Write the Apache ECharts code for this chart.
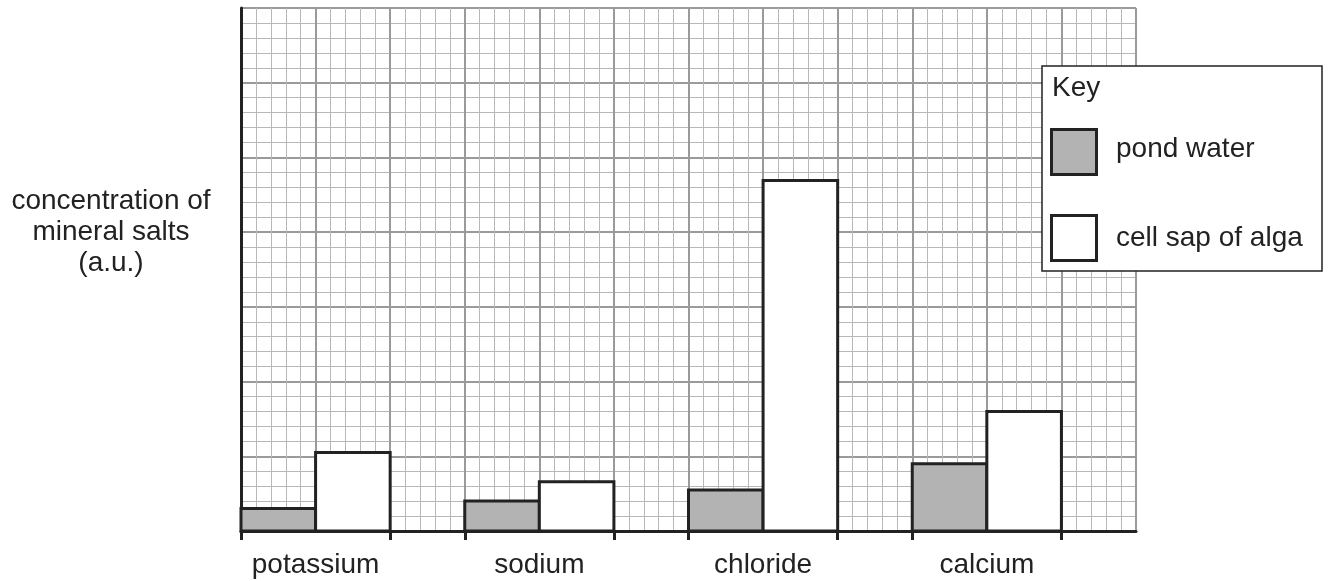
<!DOCTYPE html>
<html>
<head>
<meta charset="utf-8">
<script src="https://cdn.jsdelivr.net/npm/echarts@6/dist/echarts.min.js"></script>
<style>
html,body{margin:0;padding:0;background:#fff;}
#chart{width:1332px;height:581px;}
</style>
</head>
<body>
<div id="chart"></div>
<script>
// ---- data ----
const categories = ['potassium', 'sodium', 'chloride', 'calcium'];
const seriesNames = ['pond water', 'cell sap of alga'];
const pondWater = [0.3, 0.4, 0.55, 0.9];
const cellSap = [1.05, 0.66, 4.69, 1.6];
const yAxisTitle = 'concentration of\nmineral salts\n(a.u.)';
const keyTitle = 'Key';

// ---- layout helpers ----
const GROUP = 3; // each category occupies 3 grid columns: 2 bars + 1 gap
const pondData = pondWater.map((v, i) => [i * GROUP, v]);
const sapData = cellSap.map((v, i) => [i * GROUP + 1, v]);
const labelValues = categories.map((c, i) => i * GROUP + 1);
const tickValues = [];
categories.forEach((c, i) => { tickValues.push(i * GROUP, i * GROUP + 2); });

const FONT = '"Liberation Sans", Arial, sans-serif';
const TXT = '#222';
const EDGE = '#222';
const POND = '#b3b3b3';

function barRenderer(fill) {
  return function (params, api) {
    const x0 = api.value(0);
    const v = api.value(1);
    const p1 = api.coord([x0, v]);
    const p2 = api.coord([x0 + 1, 0]);
    return {
      type: 'rect',
      shape: { x: p1[0], y: p1[1], width: p2[0] - p1[0], height: p2[1] - p1[1] },
      style: { fill: fill, stroke: EDGE, lineWidth: 3 },
      z2: 10
    };
  };
}

const chart = echarts.init(document.getElementById('chart'), null, { renderer: 'canvas' });
chart.setOption({
  animation: false,
  backgroundColor: '#fff',
  textStyle: { fontFamily: FONT },
  grid: { left: 241, right: 196, top: 8, bottom: 50, containLabel: false, outerBoundsMode: 'none' },
  xAxis: [{
    type: 'value', min: 0, max: 12, interval: 1,
    axisLine: { show: true, onZero: false, lineStyle: { color: EDGE, width: 3 } },
    axisTick: { show: false },
    axisLabel: { show: false },
    splitLine: { show: true, lineStyle: { color: '#9a9a9a', width: 2 } },
    minorTick: { show: true, splitNumber: 5, length: 0 },
    minorSplitLine: { show: true, lineStyle: { color: '#b8b8b8', width: 1 } }
  }, {
    type: 'value', min: 0, max: 12, position: 'bottom', offset: 0,
    axisLine: { show: false },
    splitLine: { show: false },
    axisTick: { show: true, inside: false, length: 9, customValues: tickValues, lineStyle: { color: EDGE, width: 3 } },
    axisLabel: {
      show: true, customValues: labelValues, margin: 20,
      fontSize: 28, color: TXT, fontFamily: FONT,
      formatter: function (val) {
        const idx = labelValues.indexOf(Math.round(val));
        return idx >= 0 ? categories[idx] : '';
      }
    }
  }],
  yAxis: {
    type: 'value', min: 0, max: 7, interval: 1,
    axisLine: { show: true, lineStyle: { color: EDGE, width: 3 } },
    axisTick: { show: false },
    axisLabel: { show: false },
    splitLine: { show: true, lineStyle: { color: '#9a9a9a', width: 2 } },
    minorTick: { show: true, splitNumber: 5, length: 0 },
    minorSplitLine: { show: true, lineStyle: { color: '#b8b8b8', width: 1 } }
  },
  series: [{
    name: seriesNames[0], type: 'custom', xAxisIndex: 0, yAxisIndex: 0,
    renderItem: barRenderer(POND), data: pondData, encode: { x: 0, y: 1 }, z: 5
  }, {
    name: seriesNames[1], type: 'custom', xAxisIndex: 0, yAxisIndex: 0,
    renderItem: barRenderer('#ffffff'), data: sapData, encode: { x: 0, y: 1 }, z: 5
  }],
  graphic: {
    elements: [
      { type: 'text', z: 101, x: 111, y: 232, style: { text: yAxisTitle, font: '28px ' + FONT, fill: TXT, align: 'center', verticalAlign: 'middle', lineHeight: 31 } },
      { type: 'rect', z: 100, shape: { x: 1042, y: 66, width: 280, height: 205 }, style: { fill: '#ffffff', stroke: EDGE, lineWidth: 1.5 } },
      { type: 'text', z: 101, x: 1052, y: 88, style: { text: keyTitle, font: '28px ' + FONT, fill: TXT, verticalAlign: 'middle' } },
      { type: 'rect', z: 101, shape: { x: 1051.5, y: 129.5, width: 45, height: 45 }, style: { fill: POND, stroke: EDGE, lineWidth: 3 } },
      { type: 'text', z: 101, x: 1116, y: 149, style: { text: seriesNames[0], font: '28px ' + FONT, fill: TXT, verticalAlign: 'middle' } },
      { type: 'rect', z: 101, shape: { x: 1051.5, y: 215.5, width: 45, height: 45 }, style: { fill: '#ffffff', stroke: EDGE, lineWidth: 3 } },
      { type: 'text', z: 101, x: 1116, y: 238, style: { text: seriesNames[1], font: '28px ' + FONT, fill: TXT, verticalAlign: 'middle' } }
    ]
  }
});
</script>
</body>
</html>
